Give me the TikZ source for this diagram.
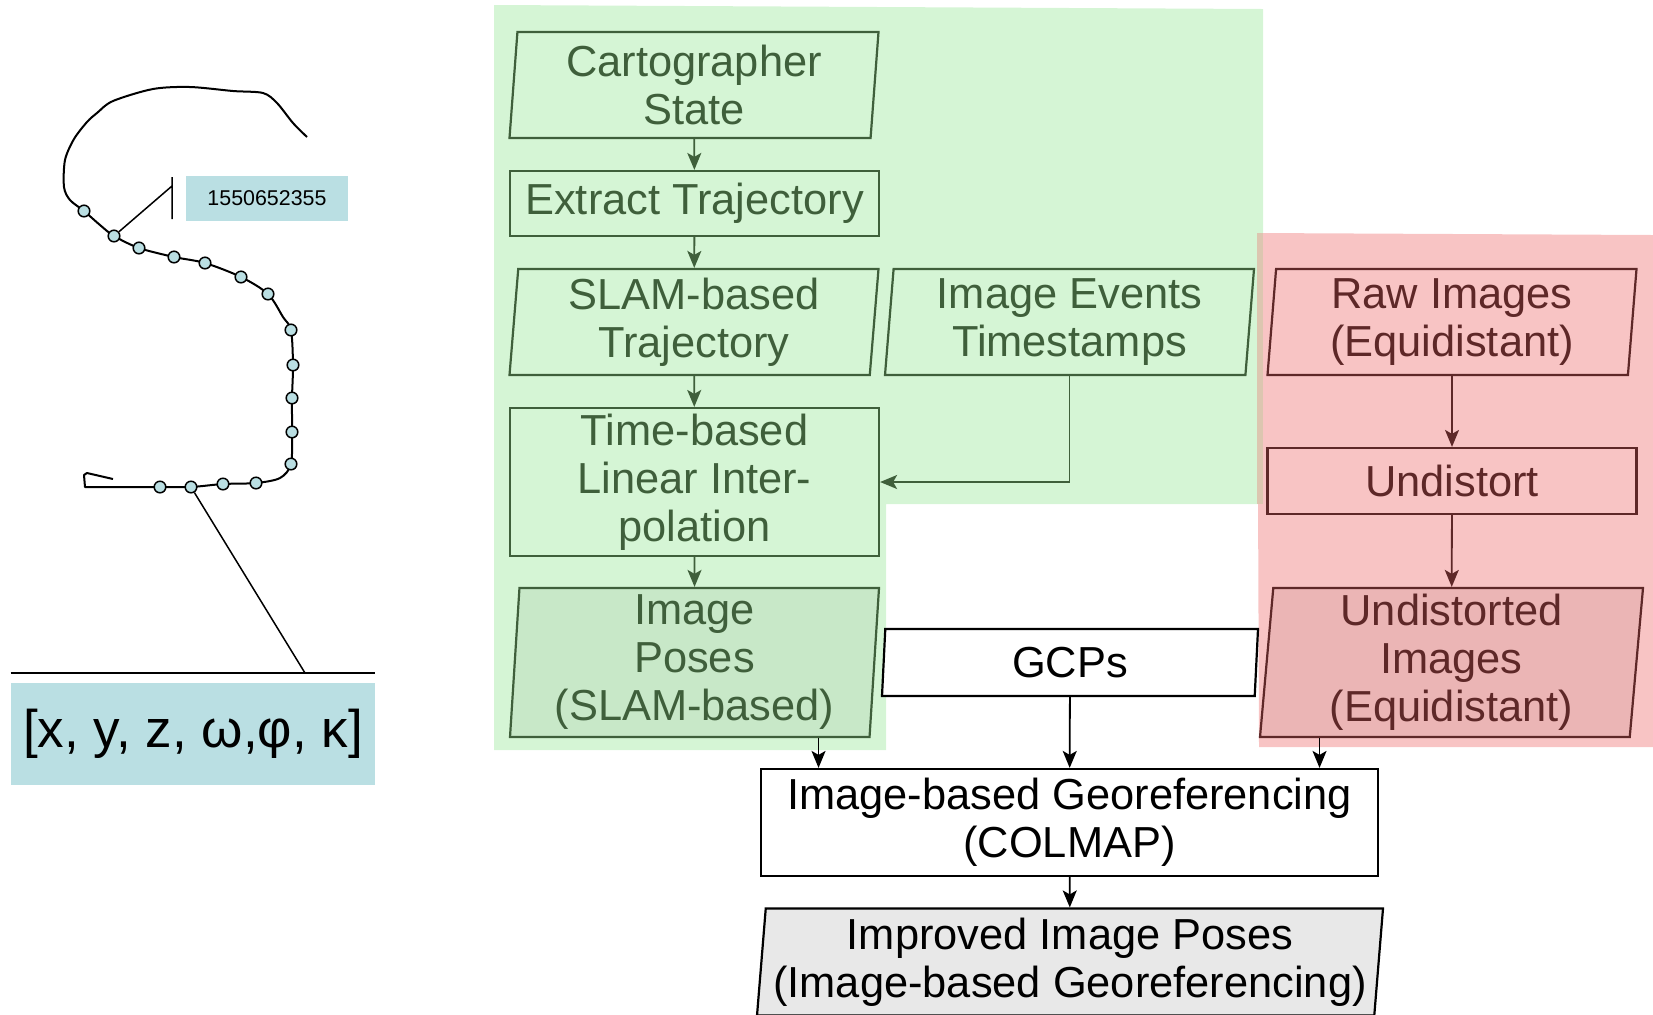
\documentclass[tikz,border=0pt]{standalone}
\usepackage{fontspec}
\setmainfont{Liberation Sans}
\usepackage{tikz}
\usetikzlibrary{arrows.meta}
\usetikzlibrary{calc,shapes.geometric}

\definecolor{bggreen}{HTML}{D5F5D5}
\definecolor{dkgreen}{HTML}{3F5F3B}
\definecolor{posegreen}{HTML}{C8E8C8}
\definecolor{bgred}{HTML}{F8C4C4}
\definecolor{bgmix}{HTML}{DCC6B0}
\definecolor{dkred}{HTML}{5E2828}
\definecolor{posered}{HTML}{EBB5B5}
\definecolor{tsblue}{HTML}{BADFE3}
\definecolor{lgray}{HTML}{E8E8E8}

\begin{document}
\begin{tikzpicture}[x=0.5pt,y=-0.5pt]
                \tikzstyle{every node}=[font=\fontsize{21.7}{24}\selectfont, align=center, inner sep=1pt]
                \tikzstyle{proc}=[rectangle, draw, line width=1.1pt, minimum width=184.5pt]
                \tikzstyle{data}=[trapezium, trapezium left angle=84.6, trapezium right angle=95.4, trapezium stretches body, draw, line width=1.1pt, minimum width=184.5pt]
                \tikzstyle{gr}=[draw=dkgreen, text=dkgreen]
                \tikzstyle{rd}=[draw=dkred, text=dkred]
                \tikzstyle{arr}=[-{Stealth[length=8.5pt,width=7pt,inset=2pt]}, line width=0.9pt]
                \tikzstyle{tdot}=[circle, draw, fill=tsblue, line width=0.75pt, minimum size=5.8pt, inner sep=0pt]
                \useasboundingbox (0,0) rectangle (1653,1014);
                % background groups
                \fill[bggreen] (494,5) -- (1263,9) -- (1263,504) -- (886,504) -- (886,750) -- (494,750) -- cycle;
                \fill[bgred] (1257,233) -- (1653,235) -- (1653,747) -- (1259,747) -- cycle;
                \fill[bgmix] (1257,233) rectangle (1263,504);
                % trajectory sketch
                \draw[line width=1pt, line join=round] plot[smooth, tension=0.5] coordinates {(307,137) (293,123) (277,103) (263,93) (233,91) (190,87) (153,89) (113,101) (97,113) (87,122) (74,139) (65,160) (64,187) (70,200) (84,211) (100,225) (114,236) (139,248) (174,257) (205,263) (241,277) (268,294) (283,317) (291,330) (293,365) (292,398) (292,432) (291,464) (280,478) (256,483) (223,484) (191,487) (160,487) (85,487)} -- (84,475) -- (87,473) -- (113,479);
                \foreach \p [count=\i] in {(84,211),(114,236),(139,248),(174,257),(205,263),(241,277),(268,294),(291,330),(293,365),(292,398),(292,432),(291,464),(256,483),(223,484),(191,487),(160,487)}
                    \node[tdot] (d\i) at \p {};
                \node[fill=tsblue, minimum width=81pt, minimum height=22.5pt, font=\fontsize{10.7}{12}\selectfont] (stamp) at (267,198.5) {1550652355};
                \coordinate (s1) at (172,186);
                \draw[line width=0.75pt] (d2) -- (s1) ([yshift=4.5pt]s1) -- ([yshift=-16.5pt]s1);
                \node[fill=tsblue, minimum width=182pt, minimum height=51pt, font=\fontsize{26.5}{30}\selectfont] (pose) at (193,734) {[x, y, z, ω,φ, κ]};
                \coordinate (b1) at (305,673);
                \draw[line width=0.75pt] (d15) -- (b1);
                \draw[line width=1pt] ([yshift=5pt]pose.north west) -- ([yshift=5pt]pose.north east);
                % flow chart
                \node[data,gr,minimum height=53pt] (carto) at (694,85) {Cartographer\\State};
                \node[proc,gr,minimum height=32.5pt] (extract) at (694.5,203.5) {Extract Trajectory};
                \node[data,gr,minimum height=53pt] (slam) at (694,322) {SLAM-based\\Trajectory};
                \node[data,gr,minimum height=53pt] (events) at (1069.5,322) {Image Events\\Timestamps};
                \node[proc,gr,minimum height=74pt] (interp) at (694.5,482) {Time-based\\Linear Inter-\\polation};
                \node[data,gr,fill=posegreen,minimum height=74.5pt,trapezium left angle=86.1,trapezium right angle=93.9] (ipose) at (694.5,662.5) {Image\\Poses\\(SLAM-based)};
                \node[data,fill=white,minimum height=33.5pt,minimum width=188pt] (gcp) at (1070,662.5) {GCPs};
                \node[data,rd,minimum height=53pt] (raw) at (1452,322) {Raw Images\\(Equidistant)};
                \node[proc,rd,minimum height=33pt] (undist) at (1452,481) {Undistort};
                \node[data,rd,fill=posered,minimum height=74.5pt,minimum width=191.5pt] (uimg) at (1451.5,662.5) {Undistorted\\Images\\(Equidistant)};
                \node[proc,fill=white,minimum height=53.5pt,minimum width=308.5pt] (geo) at (1069.5,822.5) {Image-based Georeferencing\\(COLMAP)};
                \node[data,fill=lgray,minimum height=53.5pt,minimum width=313pt] (better) at (1070,962) {Improved Image Poses\\(Image-based Georeferencing)};
                % connectors
                \draw[arr,dkgreen] (carto) -- (extract);
                \draw[arr,dkgreen] (extract) -- (slam);
                \draw[arr,dkgreen] (slam) -- (interp);
                \draw[arr,dkgreen] (events.south) |- (interp.east);
                \draw[arr,dkgreen] (interp) -- (ipose);
                \draw[arr,dkred] (raw) -- (undist);
                \draw[arr,dkred] (undist) -- (uimg);
                \draw[arr] (gcp) -- (geo);
                \draw[arr] ([xshift=62pt]ipose.south) coordinate (p1) -- (p1 |- geo.north);
                \draw[arr] ([xshift=-66pt]uimg.south) coordinate (p2) -- (p2 |- geo.north);
                \draw[arr] (geo) -- (better);
            \end{tikzpicture}
\end{document}
